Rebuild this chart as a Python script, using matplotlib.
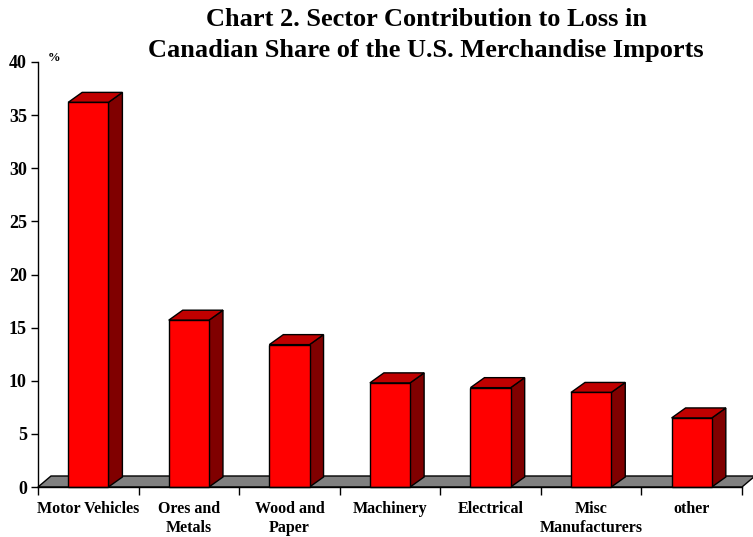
import matplotlib
matplotlib.use("Agg")
import matplotlib.pyplot as plt
from matplotlib.patches import Polygon

categories = ["Motor Vehicles", "Ores and\nMetals", "Wood and\nPaper", "Machinery",
              "Electrical", "Misc\nManufacturers", "other"]
values = [36.2, 15.7, 13.4, 9.8, 9.35, 8.9, 6.5]
yticks = [0, 5, 10, 15, 20, 25, 30, 35, 40]

W, H = 753, 537
fig = plt.figure(figsize=(W / 100, H / 100), dpi=100)
ax = fig.add_axes([38 / W, 50 / H, 704 / W, 425 / H])
ax.set_xlim(0, len(categories))
ax.set_ylim(0, 40)

serif = ["Liberation Serif", "DejaVu Serif"]

# depth offsets in data units (derived from pixel offsets)
px_x = 704 / len(categories)
px_y = 425 / 40
dx = 14 / px_x
dy = 10 / px_y
fdx = 13 / px_x
fdy = 11 / px_y

# floor
n = len(categories)
floor = Polygon([(0, 0), (n, 0), (n + fdx, fdy), (fdx, fdy)], closed=True,
                facecolor="#808080", edgecolor="black", lw=1.0, clip_on=False, zorder=1)
ax.add_patch(floor)

bw = 0.4
for i, v in enumerate(values):
    x0 = i + 0.5 - bw / 2
    x1 = i + 0.5 + bw / 2
    side = Polygon([(x1, 0), (x1 + dx, dy), (x1 + dx, v + dy), (x1, v)], closed=True,
                   facecolor="#800000", edgecolor="black", lw=1.0, clip_on=False, zorder=2)
    top = Polygon([(x0, v), (x1, v), (x1 + dx, v + dy), (x0 + dx, v + dy)], closed=True,
                  facecolor="#C00000", edgecolor="black", lw=1.0, clip_on=False, zorder=2)
    front = Polygon([(x0, 0), (x1, 0), (x1, v), (x0, v)], closed=True,
                    facecolor="#FF0000", edgecolor="black", lw=1.0, clip_on=False, zorder=3)
    for p in (side, top, front):
        ax.add_patch(p)

for s in ("top", "right"):
    ax.spines[s].set_visible(False)
ax.spines["left"].set_linewidth(1.0)
ax.spines["bottom"].set_linewidth(1.0)
ax.spines["bottom"].set_zorder(4)

ax.set_yticks(yticks)
ax.set_yticklabels([str(t) for t in yticks], fontfamily=serif, fontweight="bold", fontsize=13)
ax.tick_params(axis="y", direction="out", length=5, width=1, pad=3)

ax.set_xticks(range(n + 1))
ax.set_xticklabels([""] * (n + 1))
ax.tick_params(axis="x", direction="out", length=6, width=1)
ax.set_xticks([i + 0.5 for i in range(n)], minor=True)
ax.set_xticklabels(categories, minor=True, fontfamily=serif, fontweight="bold",
                   fontsize=11.5, linespacing=1.25)
ax.tick_params(axis="x", which="minor", length=0, pad=10)

fig.text(426 / W, 1 - 20 / H, "Chart 2. Sector Contribution to Loss in",
         ha="center", va="center", fontfamily=serif, fontweight="bold", fontsize=19)
fig.text(426 / W, 1 - 51 / H, "Canadian Share of the U.S. Merchandise Imports",
         ha="center", va="center", fontfamily=serif, fontweight="bold", fontsize=19)
fig.text(48 / W, 1 - 58 / H, "%", ha="left", va="center", fontfamily=serif,
         fontweight="bold", fontsize=9)

fig.savefig("out.png", dpi=100)
